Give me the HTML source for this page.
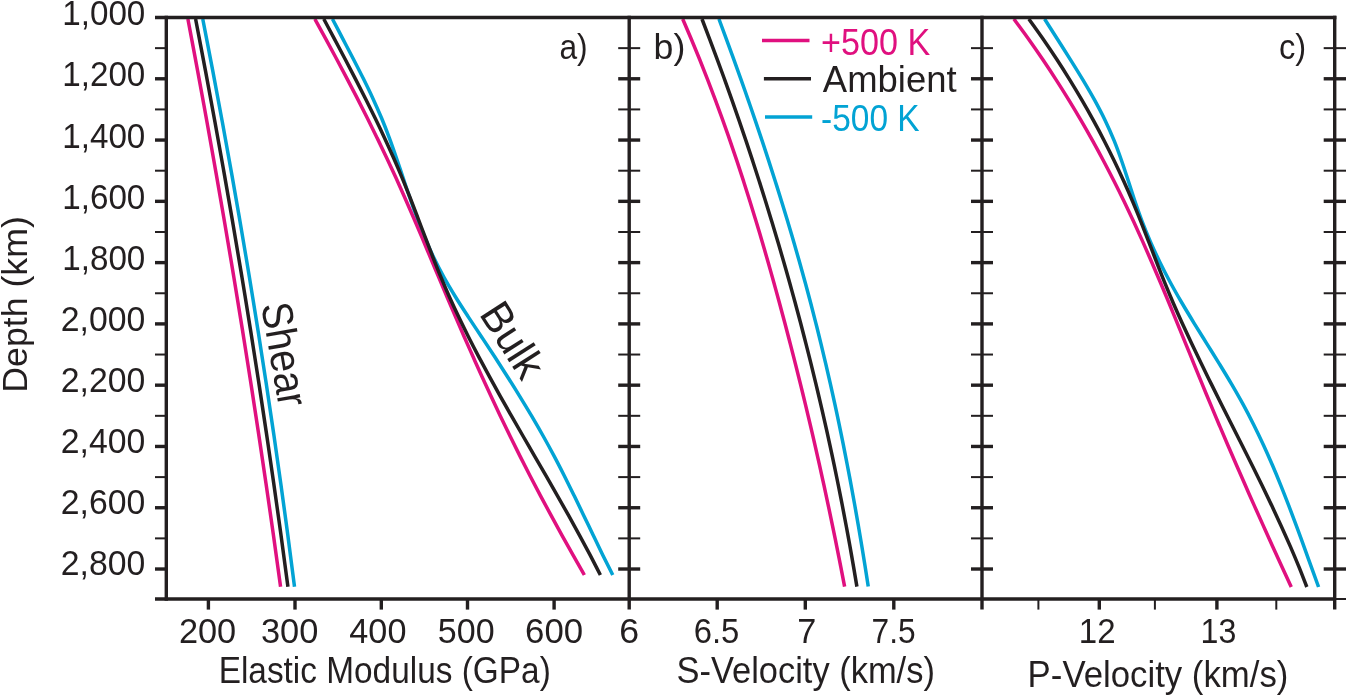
<!DOCTYPE html>
<html><head><meta charset="utf-8"><title>Elastic moduli and seismic velocities</title><style>html,body{margin:0;padding:0;background:#fff;width:1346px;height:695px;overflow:hidden}svg{display:block;font-family:"Liberation Sans",sans-serif;will-change:transform}</style></head>
<body>
<svg width="1346" height="695" viewBox="0 0 1346 695" font-family="Liberation Sans, sans-serif">
<rect width="1346" height="695" fill="#fff"/>
<path d="M202.76 19.00 C206.09 36.20 209.46 53.40 212.73 70.61 C216.00 87.81 219.22 105.01 222.38 122.22 C225.54 139.42 228.65 156.62 231.70 173.83 C234.76 191.03 237.75 208.23 240.70 225.44 C243.64 242.63 246.53 259.84 249.37 277.05 C252.20 294.24 254.98 311.45 257.71 328.65 C260.43 345.85 263.10 363.06 265.72 380.26 C268.34 397.46 270.90 414.67 273.41 431.87 C275.92 449.07 278.37 466.28 280.77 483.48 C283.17 500.68 285.51 517.88 287.80 535.09 C290.09 552.29 292.27 569.50 294.51 586.70" fill="none" stroke="#02a3d4" stroke-width="3.50"/>
<path d="M187.89 19.00 C191.12 36.20 194.39 53.40 197.58 70.61 C200.77 87.81 203.91 105.01 207.02 122.22 C210.12 139.42 213.18 156.62 216.20 173.83 C219.22 191.03 222.20 208.23 225.13 225.44 C228.07 242.64 230.96 259.84 233.81 277.05 C236.66 294.25 239.47 311.45 242.24 328.65 C245.00 345.85 247.73 363.06 250.41 380.26 C253.09 397.46 255.73 414.67 258.33 431.87 C260.93 449.07 263.48 466.28 266.00 483.48 C268.51 500.68 270.98 517.88 273.41 535.09 C275.84 552.29 278.18 569.50 280.57 586.70" fill="none" stroke="#e0107f" stroke-width="3.50"/>
<path d="M195.60 19.00 C198.89 36.20 202.21 53.40 205.45 70.61 C208.68 87.81 211.87 105.01 215.00 122.22 C218.14 139.42 221.23 156.62 224.27 173.83 C227.31 191.03 230.30 208.23 233.24 225.44 C236.18 242.64 239.08 259.84 241.92 277.05 C244.77 294.24 247.57 311.45 250.31 328.65 C253.06 345.85 255.76 363.06 258.42 380.26 C261.07 397.46 263.67 414.67 266.23 431.87 C268.78 449.07 271.29 466.28 273.75 483.48 C276.21 500.68 278.62 517.88 280.98 535.09 C283.34 552.29 285.60 569.50 287.92 586.70" fill="none" stroke="#231f20" stroke-width="3.50"/>
<path d="M332.44 19.00 C335.91 25.62 339.37 32.24 342.84 38.86 C346.30 45.48 349.80 52.09 353.22 58.71 C356.63 65.32 360.03 71.93 363.32 78.57 C366.59 85.17 369.82 91.78 372.88 98.43 C375.92 105.02 378.87 111.64 381.63 118.29 C384.37 124.88 386.92 131.50 389.39 138.14 C391.85 144.74 394.13 151.37 396.42 158.00 C398.70 164.61 400.86 171.24 403.09 177.86 C405.33 184.48 407.51 191.11 409.81 197.71 C412.12 204.34 414.44 210.97 416.92 217.57 C419.42 224.21 421.98 230.84 424.75 237.43 C427.54 244.08 430.45 250.71 433.61 257.29 C436.81 263.95 440.22 270.58 443.84 277.14 C447.52 283.82 451.51 290.42 455.56 297.00 C459.65 303.66 463.98 310.25 468.29 316.86 C472.62 323.49 477.08 330.09 481.46 336.71 C485.83 343.33 490.22 349.94 494.54 356.57 C498.85 363.18 503.12 369.80 507.33 376.43 C511.53 383.03 515.68 389.65 519.75 396.29 C523.81 402.89 527.81 409.50 531.72 416.14 C535.61 422.74 539.44 429.36 543.17 436.00 C546.87 442.60 550.49 449.22 554.02 455.86 C557.53 462.46 560.92 469.08 564.28 475.71 C567.62 482.32 570.88 488.94 574.12 495.57 C577.35 502.18 580.52 508.81 583.70 515.43 C586.89 522.05 590.03 528.67 593.22 535.29 C596.41 541.91 599.59 548.53 602.84 555.14 C606.10 561.77 609.44 568.38 612.75 575.00" fill="none" stroke="#02a3d4" stroke-width="3.50"/>
<path d="M314.87 19.00 C318.50 25.62 322.15 32.23 325.75 38.86 C329.35 45.47 332.92 52.09 336.47 58.71 C340.01 65.33 343.52 71.95 347.00 78.57 C350.47 85.18 353.91 91.80 357.32 98.43 C360.71 105.04 364.08 111.66 367.40 118.29 C370.71 124.90 373.98 131.51 377.21 138.14 C380.43 144.75 383.61 151.37 386.73 158.00 C389.85 164.61 392.92 171.23 395.94 177.86 C398.96 184.47 401.91 191.09 404.84 197.71 C407.76 204.33 410.63 210.95 413.48 217.57 C416.33 224.19 419.14 230.81 421.95 237.43 C424.76 244.04 427.53 250.67 430.32 257.29 C433.10 263.90 435.87 270.53 438.66 277.14 C441.45 283.76 444.24 290.38 447.06 297.00 C449.88 303.62 452.71 310.24 455.56 316.86 C458.42 323.48 461.29 330.10 464.19 336.71 C467.09 343.34 470.02 349.96 472.97 356.57 C475.93 363.20 478.91 369.82 481.92 376.43 C484.94 383.05 487.98 389.67 491.06 396.29 C494.15 402.91 497.27 409.53 500.42 416.14 C503.59 422.77 506.78 429.39 510.02 436.00 C513.26 442.63 516.54 449.25 519.87 455.86 C523.20 462.49 526.58 469.10 530.00 475.71 C533.43 482.34 536.90 488.96 540.41 495.57 C543.93 502.20 547.49 508.82 551.08 515.43 C554.68 522.06 558.32 528.67 561.98 535.29 C565.65 541.91 569.35 548.53 573.08 555.14 C576.81 561.77 580.59 568.38 584.35 575.00" fill="none" stroke="#e0107f" stroke-width="3.50"/>
<path d="M323.79 19.00 C327.33 25.62 330.88 32.23 334.40 38.86 C337.92 45.47 341.44 52.09 344.92 58.71 C348.39 65.33 351.85 71.94 355.27 78.57 C358.68 85.18 362.06 91.80 365.39 98.43 C368.71 105.04 371.99 111.65 375.20 118.29 C378.41 124.89 381.57 131.51 384.65 138.14 C387.71 144.75 390.72 151.37 393.64 158.00 C396.55 164.60 399.38 171.22 402.13 177.86 C404.86 184.46 407.49 191.09 410.10 197.71 C412.70 204.32 415.21 210.95 417.75 217.57 C420.28 224.19 422.76 230.81 425.29 237.43 C427.82 244.05 430.34 250.68 432.94 257.29 C435.55 263.91 438.18 270.54 440.93 277.14 C443.69 283.78 446.52 290.40 449.46 297.00 C452.42 303.64 455.50 310.26 458.65 316.86 C461.81 323.50 465.08 330.11 468.41 336.71 C471.75 343.35 475.18 349.97 478.66 356.57 C482.16 363.20 485.73 369.82 489.33 376.43 C492.95 383.06 496.63 389.68 500.33 396.29 C504.04 402.91 507.80 409.53 511.57 416.14 C515.35 422.77 519.17 429.38 522.98 436.00 C526.80 442.62 530.64 449.24 534.46 455.86 C538.29 462.48 542.13 469.09 545.95 475.71 C549.76 482.33 553.57 488.95 557.34 495.57 C561.11 502.18 564.86 508.80 568.56 515.43 C572.26 522.04 575.93 528.65 579.53 535.29 C583.13 541.89 586.68 548.51 590.17 555.14 C593.63 561.75 596.97 568.38 600.38 575.00" fill="none" stroke="#231f20" stroke-width="3.50"/>
<path d="M718.94 19.00 C721.45 25.76 723.97 32.51 726.46 39.27 C728.95 46.03 731.41 52.78 733.86 59.54 C736.30 66.30 738.73 73.05 741.13 79.81 C743.52 86.57 745.90 93.32 748.25 100.09 C750.60 106.84 752.93 113.60 755.23 120.36 C757.54 127.11 759.81 133.87 762.07 140.63 C764.32 147.38 766.54 154.14 768.74 160.90 C770.94 167.65 773.11 174.41 775.26 181.17 C777.40 187.92 779.52 194.68 781.61 201.44 C783.69 208.20 785.75 214.95 787.78 221.71 C789.81 228.47 791.81 235.22 793.77 241.99 C795.74 248.74 797.68 255.50 799.58 262.26 C801.49 269.01 803.36 275.77 805.20 282.53 C807.04 289.28 808.85 296.04 810.62 302.80 C812.40 309.55 814.14 316.31 815.84 323.07 C817.55 329.82 819.23 336.58 820.87 343.34 C822.51 350.10 824.13 356.85 825.71 363.61 C827.29 370.37 828.84 377.13 830.37 383.89 C831.89 390.64 833.38 397.40 834.85 404.16 C836.31 410.91 837.75 417.67 839.16 424.43 C840.56 431.18 841.95 437.94 843.30 444.70 C844.66 451.45 845.98 458.21 847.29 464.97 C848.59 471.73 849.87 478.48 851.13 485.24 C852.38 492.00 853.61 498.76 854.82 505.51 C856.02 512.27 857.21 519.03 858.37 525.79 C859.53 532.54 860.67 539.30 861.79 546.06 C862.91 552.81 864.00 559.57 865.08 566.33 C866.16 573.08 867.20 579.84 868.25 586.60" fill="none" stroke="#02a3d4" stroke-width="3.50"/>
<path d="M682.68 19.00 C685.57 25.76 688.52 32.50 691.35 39.27 C694.19 46.02 696.96 52.78 699.69 59.54 C702.41 66.29 705.08 73.05 707.71 79.81 C710.32 86.56 712.89 93.32 715.42 100.09 C717.94 106.84 720.41 113.59 722.84 120.36 C725.27 127.11 727.65 133.86 729.99 140.63 C732.33 147.38 734.63 154.14 736.89 160.90 C739.15 167.65 741.37 174.41 743.55 181.17 C745.73 187.92 747.88 194.68 749.99 201.44 C752.10 208.20 754.17 214.95 756.22 221.71 C758.26 228.47 760.27 235.22 762.26 241.99 C764.24 248.74 766.20 255.50 768.13 262.26 C770.05 269.01 771.95 275.77 773.83 282.53 C775.71 289.28 777.57 296.04 779.40 302.80 C781.23 309.55 783.05 316.31 784.84 323.07 C786.63 329.83 788.40 336.58 790.15 343.34 C791.90 350.10 793.63 356.85 795.34 363.61 C797.05 370.37 798.73 377.13 800.40 383.89 C802.07 390.64 803.72 397.40 805.35 404.16 C806.97 410.91 808.58 417.67 810.17 424.43 C811.76 431.18 813.33 437.94 814.87 444.70 C816.42 451.46 817.95 458.21 819.46 464.97 C820.97 471.73 822.46 478.48 823.93 485.24 C825.41 492.00 826.86 498.76 828.29 505.51 C829.72 512.27 831.14 519.03 832.54 525.79 C833.93 532.54 835.31 539.30 836.67 546.06 C838.03 552.81 839.37 559.57 840.69 566.33 C842.02 573.08 843.30 579.84 844.61 586.60" fill="none" stroke="#e0107f" stroke-width="3.50"/>
<path d="M701.97 19.00 C704.56 25.76 707.17 32.51 709.73 39.27 C712.29 46.02 714.81 52.78 717.31 59.54 C719.81 66.30 722.28 73.05 724.73 79.81 C727.17 86.57 729.58 93.32 731.97 100.09 C734.35 106.84 736.71 113.60 739.04 120.36 C741.37 127.11 743.67 133.87 745.94 140.63 C748.21 147.38 750.46 154.14 752.67 160.90 C754.89 167.65 757.08 174.41 759.24 181.17 C761.40 187.92 763.53 194.68 765.64 201.44 C767.74 208.20 769.82 214.95 771.87 221.71 C773.92 228.47 775.95 235.22 777.94 241.99 C779.94 248.74 781.91 255.50 783.85 262.26 C785.79 269.01 787.71 275.77 789.60 282.53 C791.48 289.28 793.34 296.04 795.18 302.80 C797.01 309.55 798.82 316.31 800.60 323.07 C802.38 329.83 804.13 336.58 805.86 343.34 C807.59 350.10 809.29 356.85 810.97 363.61 C812.64 370.37 814.29 377.13 815.91 383.89 C817.53 390.64 819.13 397.40 820.70 404.16 C822.27 410.91 823.82 417.67 825.33 424.43 C826.85 431.18 828.35 437.94 829.81 444.70 C831.28 451.45 832.72 458.21 834.14 464.97 C835.55 471.73 836.94 478.48 838.31 485.24 C839.67 492.00 841.01 498.75 842.33 505.51 C843.64 512.27 844.93 519.03 846.19 525.79 C847.46 532.54 848.70 539.30 849.91 546.06 C851.13 552.81 852.32 559.57 853.48 566.33 C854.65 573.08 855.76 579.84 856.90 586.60" fill="none" stroke="#231f20" stroke-width="3.50"/>
<path d="M1044.60 19.00 C1048.90 25.76 1053.19 32.52 1057.49 39.29 C1061.79 46.05 1066.14 52.80 1070.39 59.57 C1074.62 66.32 1078.85 73.07 1082.91 79.86 C1086.93 86.59 1090.90 93.34 1094.64 100.14 C1098.32 106.86 1101.90 113.61 1105.17 120.43 C1108.39 127.14 1111.37 133.91 1114.14 140.71 C1116.87 147.44 1119.29 154.22 1121.67 161.00 C1124.05 167.74 1126.19 174.52 1128.42 181.29 C1130.65 188.04 1132.73 194.83 1135.03 201.57 C1137.34 208.35 1139.69 215.13 1142.28 221.86 C1144.88 228.65 1147.66 235.41 1150.60 242.14 C1153.57 248.94 1156.71 255.70 1160.01 262.43 C1163.33 269.23 1166.84 275.99 1170.48 282.71 C1174.15 289.51 1178.03 296.26 1181.96 303.00 C1185.92 309.79 1190.05 316.54 1194.18 323.29 C1198.32 330.06 1202.56 336.81 1206.76 343.57 C1210.96 350.33 1215.21 357.08 1219.35 363.86 C1223.48 370.61 1227.61 377.35 1231.59 384.14 C1235.53 390.88 1239.41 397.63 1243.11 404.43 C1246.78 411.16 1250.30 417.92 1253.70 424.71 C1257.07 431.45 1260.31 438.22 1263.44 445.00 C1266.56 451.74 1269.55 458.51 1272.47 465.29 C1275.37 472.03 1278.16 478.80 1280.90 485.57 C1283.63 492.32 1286.26 499.09 1288.86 505.86 C1291.46 512.61 1293.98 519.38 1296.49 526.14 C1298.99 532.90 1301.44 539.66 1303.90 546.43 C1306.35 553.19 1308.77 559.95 1311.21 566.71 C1313.66 573.48 1316.12 580.24 1318.57 587.00" fill="none" stroke="#02a3d4" stroke-width="3.50"/>
<path d="M1013.89 19.00 C1018.82 25.76 1023.86 32.50 1028.69 39.29 C1033.48 46.02 1038.17 52.78 1042.77 59.57 C1047.33 66.31 1051.79 73.07 1056.16 79.86 C1060.50 86.59 1064.74 93.36 1068.90 100.14 C1073.03 106.88 1077.07 113.65 1081.02 120.43 C1084.96 127.17 1088.80 133.93 1092.57 140.71 C1096.32 147.46 1099.98 154.22 1103.58 161.00 C1107.15 167.74 1110.65 174.51 1114.08 181.29 C1117.50 188.03 1120.84 194.80 1124.12 201.57 C1127.38 208.32 1130.58 215.08 1133.72 221.86 C1136.86 228.61 1139.92 235.37 1142.95 242.14 C1145.97 248.90 1148.93 255.66 1151.86 262.43 C1154.79 269.18 1157.67 275.95 1160.53 282.71 C1163.38 289.47 1166.20 296.23 1169.01 303.00 C1171.81 309.76 1174.59 316.52 1177.36 323.29 C1180.13 330.05 1182.88 336.81 1185.64 343.57 C1188.40 350.33 1191.14 357.10 1193.90 363.86 C1196.66 370.62 1199.42 377.38 1202.20 384.14 C1204.99 390.91 1207.78 397.67 1210.60 404.43 C1213.42 411.19 1216.26 417.96 1219.12 424.71 C1221.98 431.48 1224.86 438.24 1227.77 445.00 C1230.67 451.77 1233.59 458.53 1236.54 465.29 C1239.48 472.05 1242.44 478.81 1245.42 485.57 C1248.40 492.34 1251.39 499.10 1254.40 505.86 C1257.42 512.62 1260.45 519.38 1263.49 526.14 C1266.53 532.91 1269.59 539.67 1272.66 546.43 C1275.74 553.19 1278.82 559.95 1281.92 566.71 C1285.02 573.48 1288.14 580.24 1291.25 587.00" fill="none" stroke="#e0107f" stroke-width="3.50"/>
<path d="M1028.84 19.00 C1033.65 25.76 1038.56 32.49 1043.25 39.29 C1047.91 46.02 1052.45 52.78 1056.89 59.57 C1061.30 66.30 1065.59 73.07 1069.78 79.86 C1073.94 86.59 1077.99 93.36 1081.95 100.14 C1085.87 106.88 1089.69 113.64 1093.40 120.43 C1097.10 127.17 1100.69 133.93 1104.18 140.71 C1107.65 147.45 1111.03 154.22 1114.30 161.00 C1117.56 167.74 1120.72 174.50 1123.79 181.29 C1126.84 188.03 1129.80 194.79 1132.67 201.57 C1135.52 208.32 1138.26 215.08 1140.97 221.86 C1143.66 228.61 1146.25 235.38 1148.87 242.14 C1151.49 248.90 1154.05 255.67 1156.69 262.43 C1159.33 269.20 1161.97 275.97 1164.72 282.71 C1167.48 289.49 1170.32 296.25 1173.23 303.00 C1176.16 309.78 1179.17 316.54 1182.23 323.29 C1185.31 330.06 1188.46 336.82 1191.64 343.57 C1194.84 350.34 1198.10 357.10 1201.38 363.86 C1204.67 370.63 1208.01 377.39 1211.36 384.14 C1214.72 390.91 1218.11 397.67 1221.51 404.43 C1224.91 411.19 1228.33 417.95 1231.74 424.71 C1235.15 431.48 1238.57 438.24 1241.97 445.00 C1245.36 451.76 1248.76 458.52 1252.12 465.29 C1255.48 472.04 1258.82 478.80 1262.11 485.57 C1265.40 492.33 1268.66 499.08 1271.86 505.86 C1275.05 512.61 1278.21 519.37 1281.29 526.14 C1284.36 532.89 1287.38 539.65 1290.31 546.43 C1293.23 553.18 1296.09 559.94 1298.85 566.71 C1301.60 573.46 1304.17 580.24 1306.83 587.00" fill="none" stroke="#231f20" stroke-width="3.50"/>
<line x1="155.00" y1="17.50" x2="1336.40" y2="17.50" stroke="#231f20" stroke-width="3.40"/>
<line x1="155.00" y1="599.00" x2="1334.70" y2="599.00" stroke="#231f20" stroke-width="3.40"/>
<line x1="166.30" y1="15.80" x2="166.30" y2="600.70" stroke="#231f20" stroke-width="3.40"/>
<line x1="629.20" y1="15.80" x2="629.20" y2="609.60" stroke="#231f20" stroke-width="3.40"/>
<line x1="982.00" y1="15.80" x2="982.00" y2="609.60" stroke="#231f20" stroke-width="3.40"/>
<line x1="1334.70" y1="15.80" x2="1334.70" y2="609.60" stroke="#231f20" stroke-width="3.40"/>
<line x1="155.00" y1="48.14" x2="166.30" y2="48.14" stroke="#231f20" stroke-width="2.00"/>
<line x1="618.20" y1="48.14" x2="640.20" y2="48.14" stroke="#231f20" stroke-width="2.00"/>
<line x1="971.00" y1="48.14" x2="993.00" y2="48.14" stroke="#231f20" stroke-width="2.00"/>
<line x1="1323.70" y1="48.14" x2="1346.00" y2="48.14" stroke="#231f20" stroke-width="2.00"/>
<line x1="155.00" y1="78.78" x2="166.30" y2="78.78" stroke="#231f20" stroke-width="3.40"/>
<line x1="618.20" y1="78.78" x2="640.20" y2="78.78" stroke="#231f20" stroke-width="3.40"/>
<line x1="971.00" y1="78.78" x2="993.00" y2="78.78" stroke="#231f20" stroke-width="3.40"/>
<line x1="1323.70" y1="78.78" x2="1346.00" y2="78.78" stroke="#231f20" stroke-width="3.40"/>
<line x1="155.00" y1="109.42" x2="166.30" y2="109.42" stroke="#231f20" stroke-width="2.00"/>
<line x1="618.20" y1="109.42" x2="640.20" y2="109.42" stroke="#231f20" stroke-width="2.00"/>
<line x1="971.00" y1="109.42" x2="993.00" y2="109.42" stroke="#231f20" stroke-width="2.00"/>
<line x1="1323.70" y1="109.42" x2="1346.00" y2="109.42" stroke="#231f20" stroke-width="2.00"/>
<line x1="155.00" y1="140.06" x2="166.30" y2="140.06" stroke="#231f20" stroke-width="3.40"/>
<line x1="618.20" y1="140.06" x2="640.20" y2="140.06" stroke="#231f20" stroke-width="3.40"/>
<line x1="971.00" y1="140.06" x2="993.00" y2="140.06" stroke="#231f20" stroke-width="3.40"/>
<line x1="1323.70" y1="140.06" x2="1346.00" y2="140.06" stroke="#231f20" stroke-width="3.40"/>
<line x1="155.00" y1="170.70" x2="166.30" y2="170.70" stroke="#231f20" stroke-width="2.00"/>
<line x1="618.20" y1="170.70" x2="640.20" y2="170.70" stroke="#231f20" stroke-width="2.00"/>
<line x1="971.00" y1="170.70" x2="993.00" y2="170.70" stroke="#231f20" stroke-width="2.00"/>
<line x1="1323.70" y1="170.70" x2="1346.00" y2="170.70" stroke="#231f20" stroke-width="2.00"/>
<line x1="155.00" y1="201.34" x2="166.30" y2="201.34" stroke="#231f20" stroke-width="3.40"/>
<line x1="618.20" y1="201.34" x2="640.20" y2="201.34" stroke="#231f20" stroke-width="3.40"/>
<line x1="971.00" y1="201.34" x2="993.00" y2="201.34" stroke="#231f20" stroke-width="3.40"/>
<line x1="1323.70" y1="201.34" x2="1346.00" y2="201.34" stroke="#231f20" stroke-width="3.40"/>
<line x1="155.00" y1="231.98" x2="166.30" y2="231.98" stroke="#231f20" stroke-width="2.00"/>
<line x1="618.20" y1="231.98" x2="640.20" y2="231.98" stroke="#231f20" stroke-width="2.00"/>
<line x1="971.00" y1="231.98" x2="993.00" y2="231.98" stroke="#231f20" stroke-width="2.00"/>
<line x1="1323.70" y1="231.98" x2="1346.00" y2="231.98" stroke="#231f20" stroke-width="2.00"/>
<line x1="155.00" y1="262.62" x2="166.30" y2="262.62" stroke="#231f20" stroke-width="3.40"/>
<line x1="618.20" y1="262.62" x2="640.20" y2="262.62" stroke="#231f20" stroke-width="3.40"/>
<line x1="971.00" y1="262.62" x2="993.00" y2="262.62" stroke="#231f20" stroke-width="3.40"/>
<line x1="1323.70" y1="262.62" x2="1346.00" y2="262.62" stroke="#231f20" stroke-width="3.40"/>
<line x1="155.00" y1="293.26" x2="166.30" y2="293.26" stroke="#231f20" stroke-width="2.00"/>
<line x1="618.20" y1="293.26" x2="640.20" y2="293.26" stroke="#231f20" stroke-width="2.00"/>
<line x1="971.00" y1="293.26" x2="993.00" y2="293.26" stroke="#231f20" stroke-width="2.00"/>
<line x1="1323.70" y1="293.26" x2="1346.00" y2="293.26" stroke="#231f20" stroke-width="2.00"/>
<line x1="155.00" y1="323.90" x2="166.30" y2="323.90" stroke="#231f20" stroke-width="3.40"/>
<line x1="618.20" y1="323.90" x2="640.20" y2="323.90" stroke="#231f20" stroke-width="3.40"/>
<line x1="971.00" y1="323.90" x2="993.00" y2="323.90" stroke="#231f20" stroke-width="3.40"/>
<line x1="1323.70" y1="323.90" x2="1346.00" y2="323.90" stroke="#231f20" stroke-width="3.40"/>
<line x1="155.00" y1="354.54" x2="166.30" y2="354.54" stroke="#231f20" stroke-width="2.00"/>
<line x1="618.20" y1="354.54" x2="640.20" y2="354.54" stroke="#231f20" stroke-width="2.00"/>
<line x1="971.00" y1="354.54" x2="993.00" y2="354.54" stroke="#231f20" stroke-width="2.00"/>
<line x1="1323.70" y1="354.54" x2="1346.00" y2="354.54" stroke="#231f20" stroke-width="2.00"/>
<line x1="155.00" y1="385.18" x2="166.30" y2="385.18" stroke="#231f20" stroke-width="3.40"/>
<line x1="618.20" y1="385.18" x2="640.20" y2="385.18" stroke="#231f20" stroke-width="3.40"/>
<line x1="971.00" y1="385.18" x2="993.00" y2="385.18" stroke="#231f20" stroke-width="3.40"/>
<line x1="1323.70" y1="385.18" x2="1346.00" y2="385.18" stroke="#231f20" stroke-width="3.40"/>
<line x1="155.00" y1="415.82" x2="166.30" y2="415.82" stroke="#231f20" stroke-width="2.00"/>
<line x1="618.20" y1="415.82" x2="640.20" y2="415.82" stroke="#231f20" stroke-width="2.00"/>
<line x1="971.00" y1="415.82" x2="993.00" y2="415.82" stroke="#231f20" stroke-width="2.00"/>
<line x1="1323.70" y1="415.82" x2="1346.00" y2="415.82" stroke="#231f20" stroke-width="2.00"/>
<line x1="155.00" y1="446.46" x2="166.30" y2="446.46" stroke="#231f20" stroke-width="3.40"/>
<line x1="618.20" y1="446.46" x2="640.20" y2="446.46" stroke="#231f20" stroke-width="3.40"/>
<line x1="971.00" y1="446.46" x2="993.00" y2="446.46" stroke="#231f20" stroke-width="3.40"/>
<line x1="1323.70" y1="446.46" x2="1346.00" y2="446.46" stroke="#231f20" stroke-width="3.40"/>
<line x1="155.00" y1="477.10" x2="166.30" y2="477.10" stroke="#231f20" stroke-width="2.00"/>
<line x1="618.20" y1="477.10" x2="640.20" y2="477.10" stroke="#231f20" stroke-width="2.00"/>
<line x1="971.00" y1="477.10" x2="993.00" y2="477.10" stroke="#231f20" stroke-width="2.00"/>
<line x1="1323.70" y1="477.10" x2="1346.00" y2="477.10" stroke="#231f20" stroke-width="2.00"/>
<line x1="155.00" y1="507.74" x2="166.30" y2="507.74" stroke="#231f20" stroke-width="3.40"/>
<line x1="618.20" y1="507.74" x2="640.20" y2="507.74" stroke="#231f20" stroke-width="3.40"/>
<line x1="971.00" y1="507.74" x2="993.00" y2="507.74" stroke="#231f20" stroke-width="3.40"/>
<line x1="1323.70" y1="507.74" x2="1346.00" y2="507.74" stroke="#231f20" stroke-width="3.40"/>
<line x1="155.00" y1="538.38" x2="166.30" y2="538.38" stroke="#231f20" stroke-width="2.00"/>
<line x1="618.20" y1="538.38" x2="640.20" y2="538.38" stroke="#231f20" stroke-width="2.00"/>
<line x1="971.00" y1="538.38" x2="993.00" y2="538.38" stroke="#231f20" stroke-width="2.00"/>
<line x1="1323.70" y1="538.38" x2="1346.00" y2="538.38" stroke="#231f20" stroke-width="2.00"/>
<line x1="155.00" y1="569.02" x2="166.30" y2="569.02" stroke="#231f20" stroke-width="3.40"/>
<line x1="618.20" y1="569.02" x2="640.20" y2="569.02" stroke="#231f20" stroke-width="3.40"/>
<line x1="971.00" y1="569.02" x2="993.00" y2="569.02" stroke="#231f20" stroke-width="3.40"/>
<line x1="1323.70" y1="569.02" x2="1346.00" y2="569.02" stroke="#231f20" stroke-width="3.40"/>
<line x1="1334.70" y1="599.00" x2="1346.00" y2="599.00" stroke="#231f20" stroke-width="2.00"/>
<line x1="208.40" y1="599.00" x2="208.40" y2="609.60" stroke="#231f20" stroke-width="3.40"/>
<line x1="295.00" y1="599.00" x2="295.00" y2="609.60" stroke="#231f20" stroke-width="3.40"/>
<line x1="381.30" y1="599.00" x2="381.30" y2="609.60" stroke="#231f20" stroke-width="3.40"/>
<line x1="467.50" y1="599.00" x2="467.50" y2="609.60" stroke="#231f20" stroke-width="3.40"/>
<line x1="554.10" y1="599.00" x2="554.10" y2="609.60" stroke="#231f20" stroke-width="3.40"/>
<line x1="717.20" y1="599.00" x2="717.20" y2="609.60" stroke="#231f20" stroke-width="3.40"/>
<line x1="805.30" y1="599.00" x2="805.30" y2="609.60" stroke="#231f20" stroke-width="3.40"/>
<line x1="893.80" y1="599.00" x2="893.80" y2="609.60" stroke="#231f20" stroke-width="3.40"/>
<line x1="1099.30" y1="599.00" x2="1099.30" y2="609.60" stroke="#231f20" stroke-width="3.40"/>
<line x1="1216.90" y1="599.00" x2="1216.90" y2="609.60" stroke="#231f20" stroke-width="3.40"/>
<line x1="1038.40" y1="599.00" x2="1038.40" y2="609.60" stroke="#231f20" stroke-width="2.00"/>
<line x1="1154.90" y1="599.00" x2="1154.90" y2="609.60" stroke="#231f20" stroke-width="2.00"/>
<line x1="1276.30" y1="599.00" x2="1276.30" y2="609.60" stroke="#231f20" stroke-width="2.00"/>
<line x1="762.00" y1="40.50" x2="809.50" y2="40.50" stroke="#e0107f" stroke-width="3.5"/>
<line x1="763.90" y1="78.75" x2="811.00" y2="78.75" stroke="#231f20" stroke-width="3.5"/>
<line x1="765.00" y1="117.00" x2="812.20" y2="117.00" stroke="#02a3d4" stroke-width="3.5"/>
<text transform="translate(62.21 25.30) scale(0.9570 1)" font-size="34.71" fill="#231f20">1,000</text>
<text transform="translate(62.21 86.40) scale(0.9570 1)" font-size="34.71" fill="#231f20">1,200</text>
<text transform="translate(62.21 147.50) scale(0.9570 1)" font-size="34.71" fill="#231f20">1,400</text>
<text transform="translate(62.21 208.60) scale(0.9570 1)" font-size="34.71" fill="#231f20">1,600</text>
<text transform="translate(62.21 269.70) scale(0.9570 1)" font-size="34.71" fill="#231f20">1,800</text>
<text transform="translate(60.81 330.80) scale(0.9733 1)" font-size="34.71" fill="#231f20">2,000</text>
<text transform="translate(60.81 391.90) scale(0.9733 1)" font-size="34.71" fill="#231f20">2,200</text>
<text transform="translate(60.81 453.00) scale(0.9733 1)" font-size="34.71" fill="#231f20">2,400</text>
<text transform="translate(60.81 514.10) scale(0.9733 1)" font-size="34.71" fill="#231f20">2,600</text>
<text transform="translate(60.81 575.20) scale(0.9733 1)" font-size="34.71" fill="#231f20">2,800</text>
<text transform="translate(178.88 643.30) scale(0.9759 1)" font-size="35.22" fill="#231f20">200</text>
<text transform="translate(260.92 643.30) scale(0.9769 1)" font-size="35.22" fill="#231f20">300</text>
<text transform="translate(349.32 643.30) scale(0.9718 1)" font-size="35.22" fill="#231f20">400</text>
<text transform="translate(437.84 643.30) scale(0.9661 1)" font-size="35.22" fill="#231f20">500</text>
<text transform="translate(525.06 643.30) scale(0.9884 1)" font-size="35.22" fill="#231f20">600</text>
<text transform="translate(619.32 643.30) scale(1.0137 1)" font-size="35.22" fill="#231f20">6</text>
<text transform="translate(693.66 643.30) scale(0.9327 1)" font-size="35.22" fill="#231f20">6.5</text>
<text transform="translate(797.19 643.30) scale(0.9735 1)" font-size="35.22" fill="#231f20">7</text>
<text transform="translate(871.52 643.30) scale(0.8999 1)" font-size="35.22" fill="#231f20">7.5</text>
<text transform="translate(1078.82 643.30) scale(0.9379 1)" font-size="35.22" fill="#231f20">12</text>
<text transform="translate(1200.59 643.30) scale(0.9132 1)" font-size="35.22" fill="#231f20">13</text>
<text transform="translate(218.63 683.10) scale(0.9182 1)" font-size="36.38" fill="#231f20">Elastic Modulus (GPa)</text>
<text transform="translate(676.45 683.10) scale(0.9472 1)" font-size="36.38" fill="#231f20">S-Velocity (km/s)</text>
<text transform="translate(1027.62 686.60) scale(0.9445 1)" font-size="36.81" fill="#231f20">P-Velocity (km/s)</text>
<text transform="translate(821.09 54.90) scale(0.9345 1)" font-size="36.52" fill="#e0107f">+500 K</text>
<text transform="translate(822.80 92.40) scale(1.0028 1)" font-size="36.38" fill="#231f20">Ambient</text>
<text transform="translate(821.10 130.70) scale(0.9116 1)" font-size="36.67" fill="#02a3d4">-500 K</text>
<text transform="translate(559.43 59.30) scale(0.9078 1)" font-size="35.00" fill="#231f20">a)</text>
<text transform="translate(653.58 58.80) scale(1.0196 1)" font-size="35.00" fill="#231f20">b)</text>
<text transform="translate(1278.89 59.30) scale(0.9354 1)" font-size="35.00" fill="#231f20">c)</text>
<text transform="translate(26.90 392.70) rotate(-90.00) scale(1.0114 1)" font-size="35.31" fill="#231f20">Depth (km)</text>
<text transform="translate(260.90 305.00) rotate(80.00) scale(0.9090 1)" font-size="43.30" fill="#231f20">Shear</text>
<text transform="translate(478.50 313.80) rotate(57.50) scale(0.9618 1)" font-size="43.30" fill="#231f20">Bulk</text>
</svg>
</body></html>
